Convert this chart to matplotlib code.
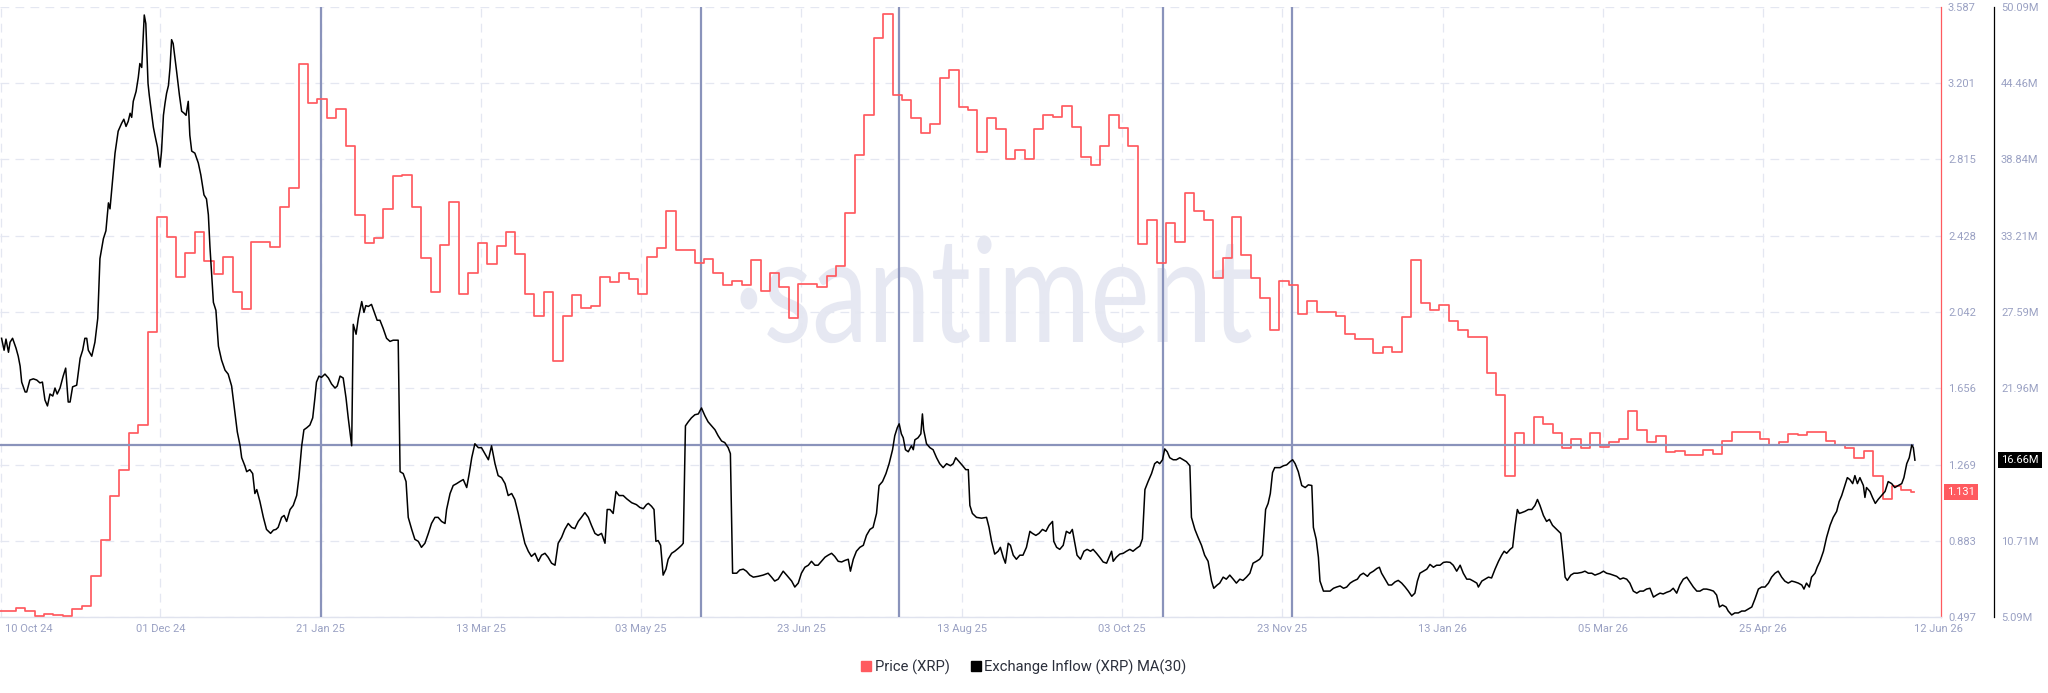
import matplotlib
matplotlib.use('Agg')
import matplotlib.pyplot as plt
import matplotlib.transforms as mtransforms
from matplotlib.lines import Line2D
from matplotlib.textpath import TextPath
from matplotlib.patches import PathPatch
from matplotlib.font_manager import FontProperties
import pandas as pd

plt.rcParams['font.family'] = ['Roboto', 'DejaVu Sans']

# ---------------- data ----------------
origin = pd.Timestamp('2024-10-11')          # left edge of the time axis
x_span_days = 617.6
price_start = pd.Timestamp('2024-10-10')
price_step_days = 3
last_date = pd.Timestamp('2026-06-12')

price = [0.527, 0.527, 0.541, 0.527, 0.501, 0.513, 0.507, 0.501, 0.537, 0.553, 0.705, 0.886,
         1.112, 1.243, 1.429, 1.469, 1.943, 2.524, 2.423, 2.217, 2.341, 2.447, 2.302, 2.236,
         2.322, 2.141, 2.056, 2.399, 2.399, 2.373, 2.575, 2.669, 3.297, 3.099, 3.119, 3.024,
         3.069, 2.883, 2.534, 2.393, 2.419, 2.562, 2.730, 2.736, 2.574, 2.318, 2.141, 2.383,
         2.601, 2.131, 2.238, 2.393, 2.286, 2.377, 2.447, 2.336, 2.135, 2.024, 2.141, 1.792,
         2.020, 2.127, 2.064, 2.074, 2.217, 2.195, 2.238, 2.207, 2.135,
         2.322, 2.367, 2.554, 2.357, 2.357, 2.292, 2.308, 2.242, 2.177, 2.201, 2.177, 2.306,
         2.147, 2.242, 2.167, 2.014, 2.185, 2.185, 2.171, 2.222, 2.276, 2.544, 2.837, 3.042,
         3.428, 3.553, 3.139, 3.115, 3.024, 2.948, 2.992, 3.226, 3.266, 3.079,
         3.063, 2.851, 3.024, 2.968, 2.817, 2.861, 2.817, 2.968, 3.038, 3.032, 3.083, 2.978,
         2.827, 2.786, 2.881, 3.038, 2.972, 2.881, 2.387, 2.508, 2.292, 2.494, 2.397, 2.645,
         2.554, 2.508, 2.216, 2.316, 2.524, 2.332, 2.216, 2.111, 1.949, 2.197,
         2.177, 2.030, 2.096, 2.044, 2.044, 2.020, 1.929, 1.905, 1.903, 1.832, 1.863, 1.838,
         2.016, 2.306, 2.090, 2.054, 2.076, 1.994, 1.949, 1.913, 1.913, 1.731, 1.620, 1.213,
         1.431, 1.368, 1.510, 1.475, 1.429, 1.354, 1.401, 1.354, 1.431, 1.358,
         1.384, 1.399, 1.542, 1.445, 1.384, 1.415, 1.334, 1.340, 1.318, 1.320, 1.344, 1.324,
         1.391, 1.435, 1.435, 1.435, 1.399, 1.368, 1.384, 1.425, 1.421, 1.435, 1.435, 1.389,
         1.368, 1.354, 1.304, 1.338, 1.209, 1.096, 1.163, 1.142, 1.131]

# (days since origin, exchange inflow MA(30) in millions XRP)
inflow_points = [
    (0.5, 25.65), (1.3, 24.77), (1.9, 25.59), (2.7, 24.62), (3.2, 25.36), (4.0, 25.65), (5.1, 24.92),
    (5.8, 24.33), (6.4, 23.60), (6.9, 22.42), (8.0, 21.69), (8.5, 21.69), (9.5, 22.57), (10.6, 22.66),
    (11.7, 22.57), (12.7, 22.36), (13.5, 22.42), (14.3, 21.10), (15.1, 20.66), (15.9, 21.54),
    (16.8, 21.39), (17.5, 21.98), (18.2, 21.54), (19.1, 21.98), (20.1, 22.86), (20.9, 23.45),
    (21.7, 20.95), (22.3, 20.95), (23.1, 22.07), (24.4, 22.19), (25.5, 24.18), (26.3, 24.77),
    (27.0, 25.65), (27.6, 25.65), (28.1, 24.77), (29.2, 24.33), (30.2, 25.36), (31.1, 27.12),
    (31.8, 31.53), (32.9, 33.00), (33.7, 33.58), (34.5, 35.64), (35.0, 35.20), (36.1, 37.99),
    (36.6, 39.31), (37.6, 40.93), (38.7, 41.51), (39.4, 41.81), (40.1, 41.28), (40.8, 41.66),
    (41.4, 42.25), (41.9, 41.95), (42.4, 43.13), (43.3, 43.86), (44.0, 44.89), (44.5, 45.92),
    (45.1, 45.63), (45.4, 47.10), (45.9, 49.50), (46.4, 48.86), (47.1, 44.45), (47.5, 43.57),
    (48.3, 42.10), (48.8, 41.22), (49.3, 40.63), (50.1, 39.75), (50.9, 38.28), (51.4, 39.46),
    (52.0, 42.10), (52.5, 42.98), (53.0, 43.72), (53.6, 44.30), (54.1, 45.63), (54.6, 47.68),
    (55.1, 47.39), (56.2, 45.33), (57.1, 43.57), (57.8, 42.40), (58.6, 42.25), (59.2, 42.10),
    (59.9, 43.13), (60.4, 40.63), (61.0, 39.46), (62.0, 39.31), (63.1, 38.58), (63.9, 37.70),
    (64.9, 36.23), (65.7, 35.93), (66.3, 34.76), (66.8, 32.41), (67.9, 28.30), (68.7, 27.71),
    (69.5, 25.07), (70.5, 24.04), (71.6, 23.30), (72.6, 23.01), (73.7, 22.13), (74.8, 20.07),
    (75.5, 18.75), (76.4, 17.72), (76.9, 16.84), (77.9, 16.25), (78.5, 15.81), (79.5, 15.96),
    (80.4, 15.67), (81.1, 14.20), (81.7, 14.49), (82.7, 13.61), (83.8, 12.44), (84.8, 11.55),
    (86.1, 11.26), (87.0, 11.50), (87.8, 11.55), (88.5, 11.70), (89.6, 12.44), (90.4, 12.58),
    (91.2, 12.14), (92.3, 13.02), (93.3, 13.32), (94.4, 14.05), (95.1, 15.37), (96.0, 17.72),
    (96.7, 18.90), (97.6, 19.05), (98.6, 19.25), (99.5, 19.78), (100.2, 21.25), (100.7, 22.42),
    (101.5, 22.86), (102.3, 22.77), (103.4, 23.01), (104.5, 22.72),
    (105.5, 22.28), (106.6, 21.98), (107.3, 22.13), (108.2, 22.86), (109.2, 22.72), (110.1, 21.25),
    (110.8, 19.78), (111.9, 17.72), (112.4, 26.68), (113.3, 25.95), (114.0, 27.12), (115.1, 28.36),
    (115.8, 27.56), (116.4, 28.06), (117.2, 28.00), (118.2, 28.15), (119.3, 27.42), (120.0, 26.98),
    (120.9, 26.98), (121.9, 26.39), (123.0, 25.65), (124.1, 25.42), (125.1, 25.51), (126.7, 25.51),
    (127.3, 15.81), (128.3, 15.67), (129.2, 15.08), (129.9, 12.44), (131.0, 11.55), (132.0, 10.82),
    (133.1, 10.67), (134.1, 10.23), (135.2, 10.53), (136.3, 11.26), (137.3, 11.99), (138.4, 12.44),
    (139.4, 12.44), (140.5, 12.14), (141.6, 11.99), (142.1, 13.02), (143.2, 14.20), (144.2, 14.79),
    (145.3, 14.93), (146.3, 15.08), (147.4, 15.23), (148.5, 14.64), (149.3, 15.67), (150.1, 16.84),
    (151.1, 17.87), (152.2, 17.58), (153.2, 17.58), (154.3, 17.14), (155.4, 16.69), (156.4, 17.72),
    (157.5, 16.40), (158.5, 15.52), (159.6, 15.37), (160.7, 14.93), (161.7, 14.05), (162.8, 14.20),
    (163.8, 13.76), (164.9, 12.73), (166.0, 11.55), (167.0, 10.53), (168.1, 9.94), (169.1, 9.56),
    (170.2, 9.79), (171.3, 9.20), (172.3, 9.65), (173.4, 9.79), (174.4, 9.50), (175.5, 9.06),
    (176.6, 8.91), (177.6, 10.53), (178.7, 10.97), (179.7, 11.55), (180.8, 11.99), (181.9, 11.70),
    (182.9, 11.61), (184.0, 12.14), (185.0, 12.44), (186.1, 12.79), (187.2, 12.44), (188.2, 11.85),
    (189.3, 11.26), (190.3, 11.11), (191.4, 11.26), (192.5, 10.53), (193.2, 13.02), (194.1, 13.02),
    (195.1, 12.73), (196.0, 14.35), (197.0, 14.05), (198.3, 14.05), (199.4, 13.81), (201.0, 13.52),
    (202.5, 13.38),
    (203.6, 13.17), (204.7, 13.08), (205.7, 13.38), (206.3, 13.47), (207.3, 13.26), (208.1, 13.02),
    (208.7, 10.67), (209.4, 10.73), (210.2, 10.38), (211.0, 8.18), (211.9, 8.62), (212.6, 9.35),
    (213.7, 9.79), (214.7, 9.94), (215.8, 10.15), (216.9, 10.38), (217.4, 10.53), (218.1, 19.19),
    (219.0, 19.49), (220.0, 19.78), (221.1, 20.01), (222.2, 20.07), (223.2, 20.51), (224.3, 19.93),
    (225.3, 19.49), (226.4, 19.19), (227.5, 18.90), (228.5, 18.46), (229.6, 18.07), (230.6, 17.96),
    (231.7, 17.58), (232.4, 17.14), (233.1, 8.32), (234.4, 8.32), (235.4, 8.56), (236.5, 8.62),
    (237.5, 8.47), (238.6, 8.18), (239.7, 8.03), (241.2, 8.09), (242.8, 8.18), (244.4, 8.32),
    (245.5, 8.03), (246.5, 7.74), (247.6, 7.88), (249.2, 8.47), (250.3, 8.18), (251.9, 7.74),
    (252.9, 7.30), (254.0, 7.59), (255.0, 8.32), (256.1, 8.76), (257.2, 8.91), (258.2, 9.20),
    (259.3, 8.91), (260.3, 8.91), (261.4, 9.20), (262.5, 9.50), (263.5, 9.65), (264.6, 9.79),
    (265.6, 9.56), (266.7, 9.20), (267.8, 9.15), (268.8, 9.26), (269.9, 9.35), (270.6, 8.47),
    (271.5, 9.35), (272.5, 9.94), (273.6, 10.23), (274.7, 10.38), (275.7, 11.11), (276.8, 11.55),
    (277.8, 11.70), (278.9, 12.73), (279.7, 14.79), (280.8, 15.08), (281.9, 15.67), (282.9, 16.40),
    (284.0, 17.43), (284.7, 18.46), (285.5, 19.05), (286.1, 19.34), (286.8, 18.60), (287.4, 18.31),
    (288.1, 17.43), (289.0, 17.28), (290.0, 17.72), (290.6, 17.43), (291.1, 18.16), (292.1, 18.31),
    (293.0, 18.60), (293.5, 20.07), (293.9, 18.90), (294.8, 17.87), (295.9, 17.58), (296.9, 17.43),
    (298.0, 16.84), (299.0, 16.40), (300.1, 16.11), (301.2, 16.40), (302.4, 16.25), (303.3, 16.40),
    (304.1, 16.84), (305.2, 16.55),
    (306.3, 16.25), (307.3, 15.96), (308.1, 15.96), (308.6, 13.32), (309.4, 12.73), (310.7, 12.44),
    (312.3, 12.38), (313.9, 12.44), (314.7, 11.70), (315.5, 10.67), (316.5, 9.73), (317.6, 9.94),
    (318.3, 10.23), (319.2, 9.50), (319.9, 9.06), (320.8, 10.53), (321.5, 10.38), (322.4, 9.65),
    (323.4, 9.35), (324.5, 9.65), (325.5, 9.65), (326.6, 10.23), (327.7, 11.41), (328.5, 11.26),
    (329.6, 11.11), (330.6, 11.26), (331.7, 11.55), (332.8, 11.41), (333.8, 11.85), (334.9, 12.14),
    (335.3, 10.67), (336.2, 10.23), (337.2, 10.08), (338.3, 10.38), (339.3, 11.41), (340.4, 11.26),
    (341.2, 11.55), (342.0, 10.53), (342.7, 9.65), (343.8, 9.35), (344.9, 9.94), (345.9, 10.08),
    (347.0, 9.94), (347.8, 10.08), (348.9, 9.79), (349.9, 9.50), (351.0, 9.15), (352.1, 9.06),
    (352.9, 9.50), (353.7, 9.94), (354.2, 9.20), (355.2, 9.50), (356.3, 9.73), (357.4, 9.79),
    (358.4, 9.94), (359.5, 10.08), (360.5, 9.94), (361.6, 10.15), (362.7, 10.33), (363.5, 10.85),
    (364.3, 14.49), (365.3, 15.08), (366.4, 15.67), (367.4, 16.40), (368.2, 16.55), (369.0, 16.40),
    (369.9, 16.69), (370.6, 17.49), (371.4, 17.28), (372.2, 16.84), (373.3, 16.69), (374.3, 16.69),
    (375.4, 16.84), (376.5, 16.69), (377.5, 16.55), (378.6, 16.25), (379.1, 12.44), (380.2, 11.55),
    (381.2, 10.97), (382.3, 10.38), (383.3, 9.65), (384.4, 9.20), (385.5, 7.74), (386.2, 7.21),
    (387.3, 7.45), (388.1, 7.59), (389.2, 8.03), (390.2, 7.88), (391.3, 8.18), (392.4, 7.88),
    (393.4, 7.59), (394.5, 7.88), (395.5, 7.79), (396.6, 8.03), (397.7, 8.32), (398.7, 9.06),
    (399.8, 9.20), (400.8, 9.35), (401.7, 9.65), (402.1, 10.97), (402.7, 13.02), (403.5, 13.47),
    (404.2, 14.20), (404.9, 15.74), (405.6, 16.11), (406.7, 16.11),
    (407.3, 16.11), (408.4, 16.25), (409.4, 16.31), (410.5, 16.55), (411.3, 16.69), (412.1, 16.40),
    (413.1, 15.81), (414.2, 14.79), (415.3, 14.64), (416.3, 14.84), (417.4, 14.79), (417.9, 11.70),
    (418.8, 10.82), (419.5, 9.50), (420.0, 7.74), (421.1, 7.00), (422.1, 7.00), (423.2, 7.00),
    (424.3, 7.21), (425.3, 7.30), (426.4, 7.38), (427.5, 7.21), (428.5, 7.30), (429.6, 7.59),
    (430.6, 7.74), (431.9, 7.88), (432.8, 8.18), (433.8, 8.32), (435.1, 8.09), (435.9, 8.32),
    (437.0, 8.47), (438.1, 8.67), (438.9, 8.76), (439.6, 8.32), (440.7, 7.88), (441.8, 7.45),
    (442.8, 7.45), (443.9, 7.68), (444.9, 7.79), (446.0, 7.59), (447.1, 7.30), (448.1, 7.00),
    (449.2, 6.62), (450.2, 6.85), (451.0, 7.74), (451.8, 8.32), (452.9, 8.47), (454.0, 8.62),
    (455.0, 8.97), (456.1, 8.76), (457.1, 8.91), (458.2, 8.91), (459.3, 9.12), (460.3, 9.15),
    (461.4, 9.12), (462.4, 8.91), (463.5, 8.47), (464.6, 8.91), (465.6, 8.32), (466.7, 7.88),
    (467.7, 7.88), (468.8, 7.74), (469.9, 7.59), (470.4, 7.30), (471.5, 7.74), (472.5, 7.88),
    (473.6, 8.03), (474.6, 7.97), (475.7, 8.62), (476.8, 9.20), (477.8, 9.65), (478.6, 9.94),
    (479.4, 9.79), (480.5, 10.08), (481.3, 10.23), (482.1, 11.85), (482.8, 13.02), (483.4, 12.73),
    (484.2, 12.79), (485.2, 12.88), (486.3, 13.02), (487.4, 13.02), (488.4, 13.32), (489.2, 13.76),
    (490.0, 13.32), (491.1, 12.58), (492.1, 12.14), (493.0, 12.29), (494.0, 11.85), (495.3, 11.55),
    (496.6, 11.26), (497.4, 9.50), (498.0, 8.03), (498.7, 7.79), (499.8, 8.18), (500.8, 8.32),
    (501.9, 8.32), (503.3, 8.38), (504.3, 8.47), (505.4, 8.32), (506.5, 8.32), (507.5, 8.18),
    (509.1, 8.32), (510.2, 8.47), (511.2, 8.32), (512.3, 8.26), (513.3, 8.18), (514.4, 8.09),
    (515.5, 7.88), (516.5, 7.97), (517.6, 7.88), (518.6, 7.59), (519.7, 7.00), (520.8, 6.85),
    (521.8, 7.00), (522.9, 7.00), (523.9, 7.15), (525.0, 7.21), (526.1, 6.56), (527.1, 6.71),
    (528.2, 6.85), (529.2, 6.79), (530.3, 6.91), (531.4, 7.00), (532.4, 7.21), (533.5, 6.85),
    (534.5, 7.45), (535.6, 7.88), (536.7, 8.03), (537.7, 7.68), (538.8, 7.30), (539.9, 7.00),
    (540.9, 7.00), (542.0, 7.15), (543.0, 7.15), (544.1, 7.09), (545.2, 7.00), (546.2, 6.71),
    (547.1, 5.83), (548.1, 5.97), (549.2, 5.83), (549.9, 5.53), (551.0, 5.24), (552.0, 5.39),
    (553.1, 5.39), (554.2, 5.53), (555.2, 5.53), (556.3, 5.68), (557.4, 5.83), (558.4, 6.42),
    (559.5, 7.15), (560.5, 7.30), (561.6, 7.30), (562.7, 7.59), (563.7, 8.03), (564.8, 8.32),
    (565.8, 8.47), (566.9, 8.03), (567.9, 7.74), (569.0, 7.59), (570.1, 7.74), (571.1, 7.68),
    (572.2, 7.59), (573.3, 7.45), (574.0, 7.15), (574.8, 7.59), (575.7, 7.30), (576.4, 8.03),
    (577.5, 8.32), (578.2, 8.76), (579.1, 9.20), (580.2, 9.94), (581.2, 10.97), (582.3, 11.85),
    (583.3, 12.44), (584.4, 12.88), (585.2, 13.61), (586.0, 14.05), (587.0, 14.79), (587.8, 15.37),
    (588.6, 15.23), (589.5, 14.93), (590.2, 15.52), (591.0, 14.93), (591.8, 15.37), (592.9, 14.79),
    (593.4, 13.91), (593.9, 14.64), (595.0, 14.35), (595.8, 13.91), (596.7, 13.47), (597.6, 13.76),
    (598.7, 14.05), (599.8, 14.35), (600.8, 15.08), (601.9, 14.93), (602.9, 14.64), (604.0, 14.79),
    (605.1, 14.93), (605.8, 15.37), (606.7, 16.40), (607.5, 16.84), (608.3, 17.78), (608.8, 17.58),
    (609.3, 16.66),
]

ref_level = 17.78   # horizontal reference line (M)
event_dates = ['2025-01-21', '2025-05-22', '2025-07-24', '2025-10-16', '2025-11-26']
tick_dates = ['2024-12-01', '2025-01-21', '2025-03-13', '2025-05-03', '2025-06-23', '2025-08-13',
              '2025-10-03', '2025-11-23', '2026-01-13', '2026-03-05', '2026-04-25']
tick_labels = ['01 Dec 24', '21 Jan 25', '13 Mar 25', '03 May 25', '23 Jun 25', '13 Aug 25',
               '03 Oct 25', '23 Nov 25', '13 Jan 26', '05 Mar 26', '25 Apr 26']
first_label = '10 Oct 24'
last_label = '12 Jun 26'
price_ticks = [0.497, 0.883, 1.269, 1.656, 2.042, 2.428, 2.815, 3.201, 3.587]
inflow_ticks = [5.09, 10.71, 16.34, 21.96, 27.59, 33.21, 38.84, 44.46, 50.09]
series_names = ['Price (XRP)', 'Exchange Inflow (XRP) MA(30)']

# ---------------- style ----------------
RED = '#ff5a5f'
BLACK = '#000000'
EVT = '#8a93bb'
GRID = '#e4e7f1'
TICKC = '#9aa1c3'
WM = '#e6e8f2'

W, H = 2048, 693
fig = plt.figure(figsize=(W / 100, H / 100), dpi=100)
fig.patch.set_facecolor('white')
ax = fig.add_axes([0, 76 / H, 1941 / W, 610 / H])
ax2 = ax.twinx()

x0 = origin
x1 = origin + pd.Timedelta(days=x_span_days)
ax.set_xlim(x0, x1)
ax.set_ylim(price_ticks[0], price_ticks[-1])
ax2.set_ylim(inflow_ticks[0], inflow_ticks[-1])

# watermark (text outline, stretched to the reference's proportions)
wm_prop = FontProperties(family='Lato', weight='normal')
wm_path = TextPath((0, 0), '\u00b7santiment', size=100, prop=wm_prop)
wm_ext = wm_path.get_extents()
x_height = TextPath((0, 0), 'x', size=100, prop=wm_prop).get_extents().height
sx = 511 / wm_ext.width
sy = 74 / x_height
wm_tr = (mtransforms.Affine2D().translate(-(wm_ext.x0 + wm_ext.width / 2), 0)
         .scale(sx, sy).translate(996, H - 342))
wm_patch = PathPatch(wm_path, facecolor=WM, edgecolor='none', transform=wm_tr,
                     zorder=0.3, clip_on=False)
ax.add_artist(wm_patch)

# price (step)
p_dates = [price_start + pd.Timedelta(days=price_step_days * i) for i in range(len(price))] + [last_date]
p_vals = list(price) + [price[-1]]
ax.step(p_dates, p_vals, where='post', color=RED, lw=1.25, zorder=3)

# inflow
i_dates = [origin + pd.Timedelta(days=d) for d, _ in inflow_points]
i_vals = [v for _, v in inflow_points]
ax2.plot(i_dates, i_vals, color=BLACK, lw=1.1, zorder=4)

# event lines and reference line
for d in event_dates:
    ax.axvline(pd.Timestamp(d), color=EVT, lw=1.6, zorder=2.6)
ax2.hlines(ref_level, x0, last_date, color=EVT, lw=1.6, zorder=3)

# grid
ax.set_axisbelow(True)
ax.set_yticks(price_ticks)
ax.set_yticklabels([f'{v:.3f}' for v in price_ticks])
ax.set_xticks([pd.Timestamp(d) for d in tick_dates])
ax.set_xticklabels(tick_labels)
ax.grid(True, axis='both', color=GRID, lw=0.9, ls=(0, (7, 5)))
ax.axvline(x0 + pd.Timedelta(days=0.2), color=GRID, lw=0.9, ls=(0, (7, 5)), zorder=0.5)

ax2.set_yticks(inflow_ticks)
# the label under the current-value badge is hidden, as in the reference
cur_val = inflow_points[-1][1]
ax2.set_yticklabels(['' if abs(v - cur_val) < 1.0 else f'{v:.2f}M' for v in inflow_ticks])
ax2.grid(False)

# spines
for a in (ax, ax2):
    a.spines['left'].set_visible(False)
    a.spines['top'].set_visible(False)
ax2.spines['bottom'].set_visible(False)
ax.spines['bottom'].set_color('#e0e3ee')
ax.spines['bottom'].set_linewidth(1.0)
ax.spines['right'].set_color(RED)
ax.spines['right'].set_linewidth(0.9)
ax2.spines['right'].set_color(BLACK)
ax2.spines['right'].set_linewidth(0.9)
ax2.spines['right'].set_position(('outward', 53 * 0.72))

ax.yaxis.set_ticks_position('right')
ax.tick_params(axis='y', length=0, pad=5, labelsize=8, labelcolor=TICKC)
ax2.tick_params(axis='y', length=0, pad=5, labelsize=8, labelcolor=TICKC)
ax.tick_params(axis='x', length=0, pad=5, labelsize=8, labelcolor=TICKC)

# edge date labels
ax.text(5 / 1941, -12 / 610, first_label, transform=ax.transAxes, ha='left', va='center',
        fontsize=8, color=TICKC)
blend_x = mtransforms.blended_transform_factory(ax.transData, ax.transAxes)
ax.text(last_date, -12 / 610, last_label, transform=blend_x, ha='left', va='center',
        fontsize=8, color=TICKC)

# value badges
blend_p = mtransforms.blended_transform_factory(ax.transAxes, ax.transData)
ax.text(1 + 6 / 1941, price[-1], f'{price[-1]:.3f}', transform=blend_p, ha='left', va='center',
        fontsize=8, color='white', clip_on=False, zorder=10,
        bbox=dict(boxstyle='square,pad=0.3', fc=RED, ec='none'))
blend_v = mtransforms.blended_transform_factory(ax2.transAxes, ax2.transData)
ax2.text(1 + 60 / 1941, cur_val, f'{cur_val:.2f}M', transform=blend_v, ha='left', va='center',
         fontsize=8, color='white', clip_on=False, zorder=10,
         bbox=dict(boxstyle='square,pad=0.3', fc=BLACK, ec='none'))

# legend
handles = [Line2D([], [], marker='s', ls='', color=RED, markersize=6.5),
           Line2D([], [], marker='s', ls='', color=BLACK, markersize=6.5)]
fig.legend(handles, series_names, loc='center', bbox_to_anchor=(1023 / W, 1 - 667 / H),
           ncol=2, frameon=False, fontsize=10.6, handletextpad=0.15, columnspacing=1.3,
           handlelength=0.9, labelcolor='#2b2f3b')

fig.savefig('out.png', dpi=100, facecolor='white')
